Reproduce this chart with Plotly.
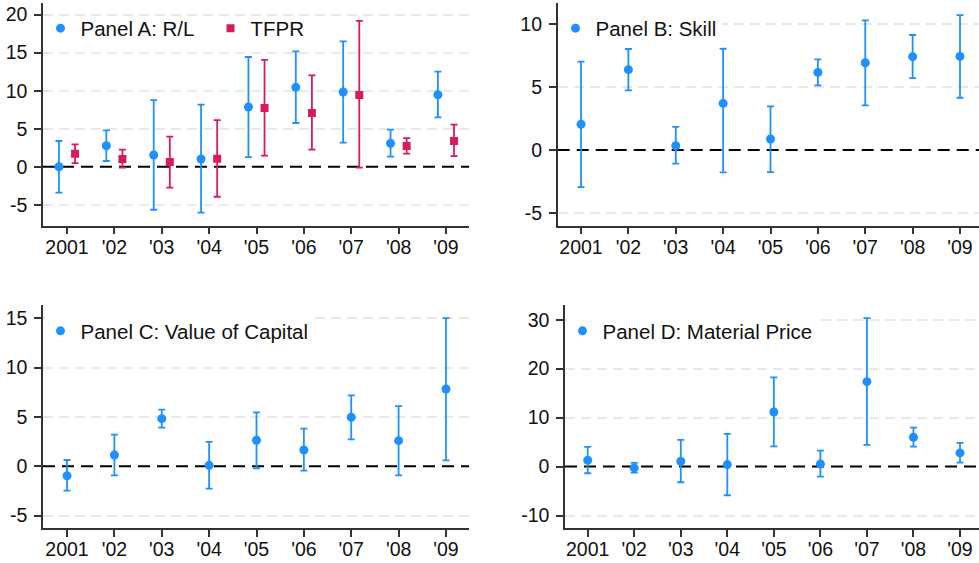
import plotly.graph_objects as go

W, H = 979, 563

years = ["2001", "'02", "'03", "'04", "'05", "'06", "'07", "'08", "'09"]

# Panel A: R/L
a_rl_est = [0.0, 2.76, 1.54, 1.01, 7.85, 10.44, 9.82, 3.07, 9.47]
a_rl_lo = [-3.42, 0.75, -5.66, -6.05, 1.27, 5.75, 3.16, 1.32, 6.49]
a_rl_hi = [3.38, 4.78, 8.77, 8.16, 14.43, 15.18, 16.49, 4.87, 12.50]
# Panel A: TFPR
a_tf_est = [1.71, 1.01, 0.61, 1.05, 7.72, 7.06, 9.43, 2.72, 3.38]
a_tf_lo = [0.48, -0.13, -2.76, -3.95, 1.45, 2.24, -0.13, 1.71, 1.40]
a_tf_hi = [2.94, 2.24, 3.95, 6.14, 14.04, 12.02, 19.17, 3.77, 5.53]
# Panel B: Skill
b_est = [2.04, 6.38, 0.34, 3.70, 0.87, 6.16, 6.93, 7.41, 7.43]
b_lo = [-2.94, 4.74, -1.08, -1.77, -1.75, 5.13, 3.54, 5.71, 4.15]
b_hi = [7.01, 8.02, 1.83, 8.04, 3.47, 7.20, 10.29, 9.13, 10.71]
# Panel C: Value of Capital
c_est = [-0.95, 1.15, 4.83, 0.10, 2.64, 1.66, 4.97, 2.60, 7.84]
c_lo = [-2.47, -0.91, 3.92, -2.26, -0.20, -0.44, 2.74, -0.91, 0.61]
c_hi = [0.64, 3.21, 5.74, 2.47, 5.47, 3.82, 7.20, 6.11, 15.03]
# Panel D: Material Price
d_est = [1.29, -0.27, 1.09, 0.41, 11.16, 0.54, 17.35, 5.99, 2.79]
d_lo = [-1.36, -1.22, -3.20, -5.85, 4.15, -2.04, 4.42, 4.08, 0.82]
d_hi = [4.01, 0.75, 5.44, 6.67, 18.23, 3.27, 30.34, 7.96, 4.83]

yticks_a = [-5, 0, 5, 10, 15, 20]
yticks_b = [-5, 0, 5, 10]
yticks_c = [-5, 0, 5, 10, 15]
yticks_d = [-10, 0, 10, 20, 30]

BLUE = "#1E90FF"
RED = "#D81B5C"
FONT = "Liberation Sans, Arial, sans-serif"

xpos = list(range(1, len(years) + 1))


def px_x(p):
    return p / W


def px_y(p):
    return 1 - p / H


fig = go.Figure()


def add_series(est, lo, hi, xs, xa, ya, name, color, symbol, legend):
    fig.add_trace(go.Scatter(
        x=xs, y=est, mode="markers", name=name,
        xaxis=xa, yaxis=ya, legend=legend,
        marker=dict(color=color, size=9 if symbol == "circle" else 8, symbol=symbol),
        error_y=dict(type="data", symmetric=False,
                     array=[h - e for h, e in zip(hi, est)],
                     arrayminus=[e - l for e, l in zip(est, lo)],
                     color=color, thickness=1.8, width=3.5),
    ))


off = 0.17
add_series(a_rl_est, a_rl_lo, a_rl_hi, [x - off for x in xpos], "x", "y",
           "Panel A: R/L", BLUE, "circle", "legend")
add_series(a_tf_est, a_tf_lo, a_tf_hi, [x + off for x in xpos], "x", "y",
           "TFPR", RED, "square", "legend")
add_series(b_est, b_lo, b_hi, xpos, "x2", "y2", "Panel B: Skill", BLUE, "circle", "legend2")
add_series(c_est, c_lo, c_hi, xpos, "x3", "y3", "Panel C: Value of Capital", BLUE, "circle", "legend3")
add_series(d_est, d_lo, d_hi, xpos, "x4", "y4", "Panel D: Material Price", BLUE, "circle", "legend4")

tickfont = dict(family=FONT, size=19.5, color="#111")
axcol = "#333"


def xaxis(dom, rng, anchor):
    return dict(domain=dom, range=rng, anchor=anchor, tickmode="array",
                tickvals=xpos, ticktext=years, showgrid=False, zeroline=False,
                showline=True, linecolor=axcol, linewidth=1.5,
                ticks="outside", ticklen=7, tickwidth=1.5, tickcolor=axcol,
                ticklabelstandoff=-4,
                tickfont=tickfont, fixedrange=True)


def yaxis(dom, rng, anchor, tv):
    return dict(domain=dom, range=rng, anchor=anchor, tickmode="array",
                tickvals=tv, ticktext=[str(v) for v in tv],
                showgrid=False,
                minor=dict(tickmode="array", tickvals=[v for v in tv if v != 0],
                           ticks="", showgrid=True, gridcolor="#E8E8E8",
                           gridwidth=1.5, griddash="10px,6px"),
                zeroline=False, showline=True, linecolor=axcol, linewidth=1.5,
                ticks="outside", ticklen=7, tickwidth=1.5, tickcolor=axcol,
                ticklabelstandoff=3,
                tickfont=tickfont, fixedrange=True)


top_y = [px_y(225.7), px_y(2.5)]
bot_y = [px_y(528.3), px_y(305)]

legend_style = dict(bgcolor="white", borderwidth=0, orientation="h",
                    font=dict(family=FONT, size=20.5, color="#111"),
                    xanchor="left", yanchor="middle", itemwidth=30,
                    tracegroupgap=0, itemclick=False, itemdoubleclick=False)

fig.update_layout(
    width=W, height=H, margin=dict(l=0, r=0, t=0, b=0),
    paper_bgcolor="white", plot_bgcolor="white",
    xaxis=xaxis([px_x(43), px_x(469)], [0.493, 9.486], "y"),
    yaxis=yaxis(top_y, [-7.76, 21.6], "x", yticks_a),
    xaxis2=xaxis([px_x(557.7), 1.0], [0.508, 9.401], "y2"),
    yaxis2=yaxis(top_y, [-6.01, 11.71], "x2", yticks_b),
    xaxis3=xaxis([px_x(43), px_x(469)], [0.493, 9.486], "y3"),
    yaxis3=yaxis(bot_y, [-6.28, 16.35], "x3", yticks_c),
    xaxis4=xaxis([px_x(565), 1.0], [0.512, 9.408], "y4"),
    yaxis4=yaxis(bot_y, [-12.6, 33.0], "x4", yticks_d),
    legend=dict(legend_style, x=px_x(44.5), y=px_y(28.3), entrywidth=129,
                indentation=-4, bgcolor="rgba(0,0,0,0)"),
    legend2=dict(legend_style, x=px_x(559.5), y=px_y(28.3), indentation=-4),
    legend3=dict(legend_style, x=px_x(44.5), y=px_y(331), indentation=-4),
    legend4=dict(legend_style, x=px_x(566.5), y=px_y(331), indentation=-4),
    showlegend=True,
)

for xr, yr in [("x", "y"), ("x2", "y2"), ("x3", "y3"), ("x4", "y4")]:
    fig.add_shape(type="line", xref=f"{xr} domain", yref=yr, x0=0, x1=1, y0=0, y1=0,
                  line=dict(color="black", width=2, dash="12px,7px"), layer="below")

fig.write_html("out.html", config={"displayModeBar": False},
               post_script="document.body.style.margin='0px';document.body.style.overflow='hidden';")
